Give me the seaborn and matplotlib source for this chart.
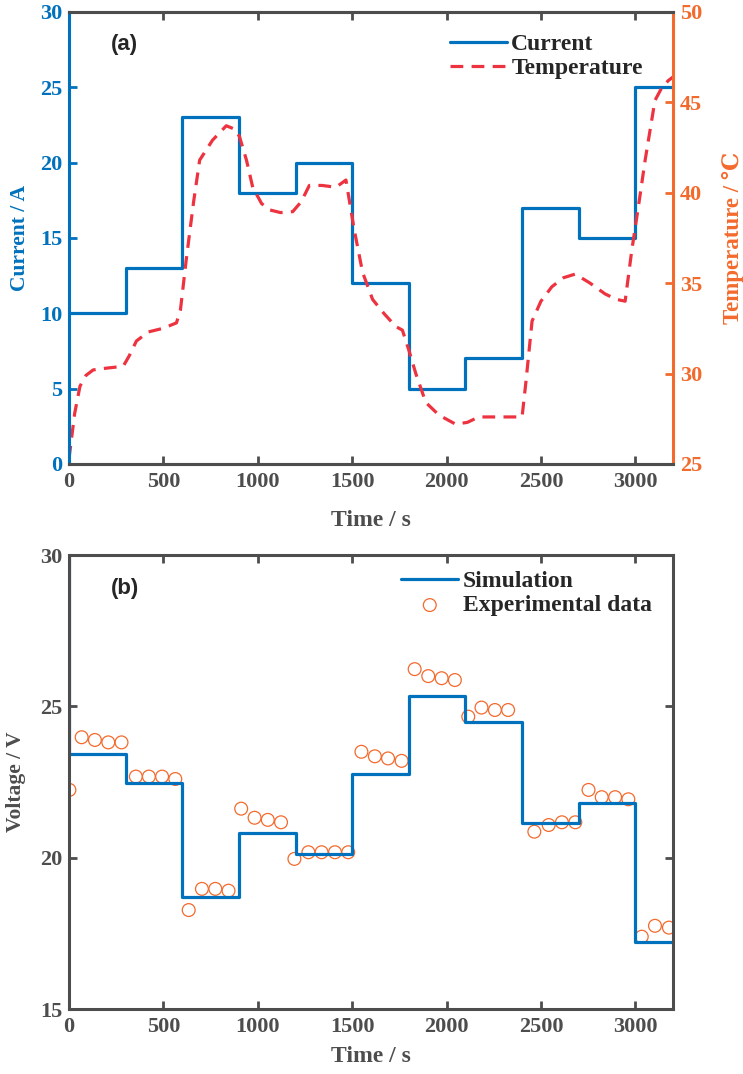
import numpy as np
import pandas as pd
import matplotlib
matplotlib.use("Agg")
import matplotlib.pyplot as plt
import seaborn as sns

# Current profile (step changes every 300 s)
step_time = [0, 300, 600, 900, 1200, 1500, 1800, 2100, 2400, 2700, 3000, 3200]
current = [10, 13, 23, 18, 20, 12, 5, 7, 17, 15, 25, 25]

# Temperature
temp_time = [0, 30, 58, 90, 128, 200, 287, 320, 357, 420, 498, 569, 590, 621, 660, 692, 760,
             833, 880, 903, 940, 973, 1020, 1062, 1120, 1185, 1230, 1273, 1340, 1414, 1467,
             1510, 1555, 1608, 1670, 1731, 1766, 1800, 1837, 1890, 1960, 2048, 2110, 2171,
             2300, 2400, 2420, 2453, 2500, 2558, 2620, 2682, 2760, 2840, 2900, 2946, 2981,
             3020, 3052, 3104, 3140, 3175, 3200]
temperature = [25.3, 27.8, 29.3, 29.9, 30.2, 30.3, 30.4, 31.0, 31.8, 32.3, 32.5, 32.8, 33.5,
               36.3, 39.5, 41.8, 42.9, 43.7, 43.5, 43.1, 41.8, 40.3, 39.4, 39.05, 38.9, 38.95,
               39.5, 40.4, 40.4, 40.3, 40.7, 38.0, 35.6, 34.1, 33.3, 32.6, 32.4, 31.3, 30.0,
               28.4, 27.7, 27.2, 27.3, 27.6, 27.6, 27.6, 29.5, 32.9, 34.0, 34.8, 35.3, 35.5,
               35.0, 34.4, 34.1, 34.0, 36.8, 39.5, 41.8, 45.1, 45.8, 46.2, 46.4]

# Simulated voltage (steps); starts at 30 V at t = 0
sim_time = [0, 0, 300, 600, 900, 1200, 1500, 1800, 2100, 2400, 2700, 3000, 3200]
sim_voltage = [30.0, 23.43, 22.46, 18.71, 20.83, 20.12, 22.77, 25.34, 24.47, 21.16, 21.82,
               17.23, 17.23]

# Experimental voltage samples
exp_time = [2, 67, 137, 208, 278, 354, 423, 493, 563, 634, 704, 775, 845, 912, 983, 1053,
            1123, 1194, 1268, 1338, 1409, 1479, 1549, 1620, 1690, 1762, 1831, 1903, 1974,
            2044, 2115, 2185, 2256, 2326, 2465, 2541, 2611, 2682, 2752, 2822, 2893, 2963,
            3034, 3104, 3178]
exp_voltage = [22.24, 23.98, 23.89, 23.81, 23.81, 22.68, 22.68, 22.68, 22.60, 18.27, 18.97,
               18.97, 18.91, 21.62, 21.32, 21.25, 21.17, 19.96, 20.18, 20.18, 20.18, 20.18,
               23.50, 23.35, 23.28, 23.20, 26.23, 26.00, 25.93, 25.87, 24.66, 24.96, 24.88,
               24.88, 20.86, 21.08, 21.17, 21.17, 22.24, 22.00, 22.00, 21.93, 17.39, 17.75,
               17.69]

sns.set_style("ticks")
plt.rcParams["font.family"] = ["Liberation Serif", "DejaVu Serif"]
plt.rcParams["font.weight"] = "bold"

BLUE = "#0072BD"
RED = "#EE3340"
ORANGE = "#F36A2D"
GRAY = "#4D4D4D"
LEG_FONT = {"family": "Liberation Serif", "weight": "bold", "size": 17}

fig = plt.figure(figsize=(7.43, 10.74), dpi=100)
ax1 = fig.add_axes([0.0929, 0.568, 0.813, 0.421])
ax3 = fig.add_axes([0.0929, 0.0605, 0.813, 0.4227])

# ---- (a) current & temperature
df_cur = pd.DataFrame({"Time": step_time, "Current": current})
sns.lineplot(data=df_cur, x="Time", y="Current", ax=ax1, color=BLUE, lw=2.3,
             drawstyle="steps-post", label="Current", legend=False)
ax2 = ax1.twinx()
df_t = pd.DataFrame({"Time": temp_time, "Temperature": temperature})
sns.lineplot(data=df_t, x="Time", y="Temperature", ax=ax2, color=RED, lw=2.3,
             dashes=False, linestyle=(0, (4, 2.6)), label="Temperature", legend=False)

ax1.set_xlim(0, 3200)
ax1.set_ylim(0, 30)
ax2.set_ylim(25, 50)
ax1.set_xticks(np.arange(0, 3001, 500))
ax1.set_yticks(np.arange(0, 31, 5))
ax2.set_yticks(np.arange(25, 51, 5))

for ax in (ax1, ax2):
    for s in ax.spines.values():
        s.set_linewidth(2.2)
        s.set_color(GRAY)
ax2.spines["left"].set_color(BLUE)
ax2.spines["right"].set_color(ORANGE)
ax1.spines["left"].set_color(BLUE)
ax1.spines["right"].set_visible(False)

ax1.tick_params(axis="x", direction="in", length=6, width=2, colors=GRAY, labelsize=16,
                top=True, pad=6)
ax1.tick_params(axis="y", direction="in", length=6, width=2, colors=BLUE, labelsize=16, pad=5)
ax2.tick_params(axis="y", direction="in", length=6, width=2, colors=ORANGE, labelsize=16, pad=5)

ax1.set_xlabel("Time / s", fontsize=17, fontweight="bold", color=GRAY, labelpad=13)
ax1.set_ylabel("Current / A", fontsize=15.5, fontweight="bold", color=BLUE, labelpad=7)
ax2.set_ylabel("Temperature / \u2103", fontsize=16.5, fontweight="bold", color=ORANGE,
               labelpad=14)

h1, l1 = ax1.get_legend_handles_labels()
h2, l2 = ax2.get_legend_handles_labels()
ax2.legend(h1 + h2, l1 + l2, loc="upper right", bbox_to_anchor=(0.985, 0.998), frameon=False,
           prop=LEG_FONT, handlelength=2.4, handletextpad=0.2, labelspacing=0.1)
ax1.text(0.07, 0.927, "(a)", transform=ax1.transAxes, fontsize=16, fontweight="bold",
         family="Liberation Sans", color="#262626", va="center")

# ---- (b) voltage
ax3.plot(sim_time, sim_voltage, color=BLUE, lw=2.3, drawstyle="steps-post",
         label="Simulation")
df_exp = pd.DataFrame({"Time": exp_time, "Voltage": exp_voltage})
sns.scatterplot(data=df_exp, x="Time", y="Voltage", ax=ax3, marker="o", s=85,
                facecolor="none", edgecolor=ORANGE, linewidth=0.9,
                label="Experimental data", legend=False)

ax3.set_xlim(0, 3200)
ax3.set_ylim(15, 30)
ax3.set_xticks(np.arange(0, 3001, 500))
ax3.set_yticks([15, 20, 25, 30])
for s in ax3.spines.values():
    s.set_linewidth(2.2)
    s.set_color(GRAY)
ax3.tick_params(axis="both", direction="in", length=6, width=2, colors=GRAY, labelsize=16,
                top=True, right=True, pad=5)
ax3.tick_params(axis="x", pad=6)
ax3.set_xlabel("Time / s", fontsize=17, fontweight="bold", color=GRAY, labelpad=6)
ax3.set_ylabel("Voltage / V", fontsize=15.5, fontweight="bold", color=GRAY, labelpad=10)
h3, l3 = ax3.get_legend_handles_labels()
ax3.legend(h3, l3, loc="upper right", bbox_to_anchor=(1.0, 1.012), frameon=False,
           prop=LEG_FONT, handlelength=2.4, handletextpad=0.2, labelspacing=0.1)
ax3.text(0.07, 0.927, "(b)", transform=ax3.transAxes, fontsize=16, fontweight="bold",
         family="Liberation Sans", color="#262626", va="center")

fig.savefig("out.png", dpi=100)
